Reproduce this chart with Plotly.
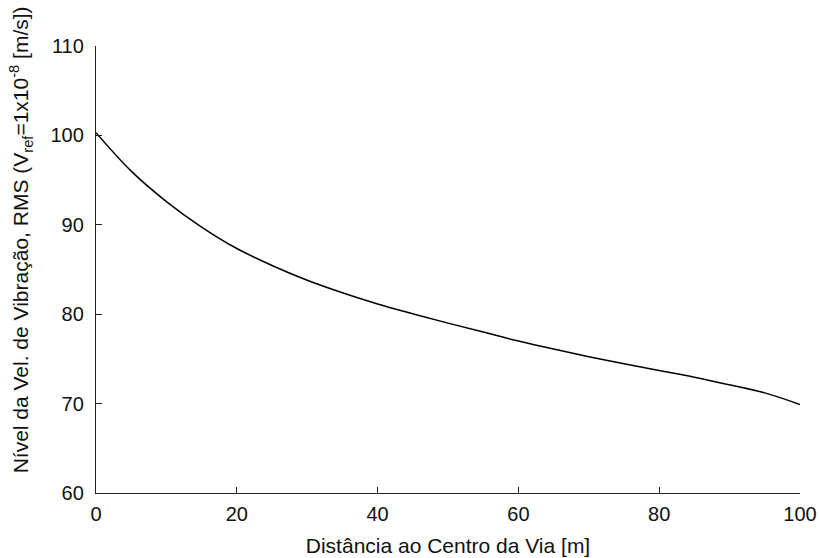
import plotly.graph_objects as go

distance_m = [0, 5, 10, 15, 20, 25, 30, 35, 40, 45, 50, 55, 60, 65, 70, 75, 80, 85, 90, 95, 100]
vel_level_db = [100.3, 96.0, 92.6, 89.75, 87.35, 85.45, 83.8, 82.4, 81.15, 80.05, 79.0, 78.0,
                77.0, 76.1, 75.25, 74.45, 73.7, 72.95, 72.1, 71.2, 69.9]

x_ticks = [0, 20, 40, 60, 80, 100]
y_ticks = [60, 70, 80, 90, 100, 110]

FONT = "Liberation Sans, Arial, Helvetica, sans-serif"

fig = go.Figure()
fig.add_trace(go.Scatter(
    x=distance_m, y=vel_level_db, mode="lines",
    line=dict(color="black", width=1.5, shape="spline", smoothing=1.0),
    showlegend=False, hoverinfo="skip",
))

axis_common = dict(
    showgrid=False, zeroline=False, showline=True, linecolor="#222222", linewidth=1.3,
    ticks="inside", ticklen=6, tickcolor="#222222", tickwidth=1.2,
    tickfont=dict(family=FONT, size=20, color="#111111"), mirror=False,
    automargin=False,
)

fig.update_layout(
    width=819, height=558,
    margin=dict(l=96, r=19, t=46, b=65),
    paper_bgcolor="white", plot_bgcolor="white",
    font=dict(family=FONT, color="#111111"),
    xaxis=dict(range=[0, 100], tickvals=x_ticks, ticktext=[str(v) for v in x_ticks],
               ticklabelstandoff=3,
               title=dict(text="Distância ao Centro da Via [m]", font=dict(family=FONT, size=21), standoff=14),
               **axis_common),
    yaxis=dict(range=[60, 110], tickvals=y_ticks, ticktext=[str(v) for v in y_ticks],
               ticklabelstandoff=7,
               **axis_common),
)

fig.add_annotation(
    xref="paper", yref="paper", x=-0.106, y=0.566, xanchor="center", yanchor="middle",
    textangle=-90, showarrow=False,
    text="Nível da Vel. de Vibração, RMS (V<sub>ref</sub>=1x10<sup>-8</sup> [m/s])",
    font=dict(family=FONT, size=21, color="#111111"),
)

fig.write_html("out.html", config={"displayModeBar": False},
               post_script="document.body.style.margin='0';")
